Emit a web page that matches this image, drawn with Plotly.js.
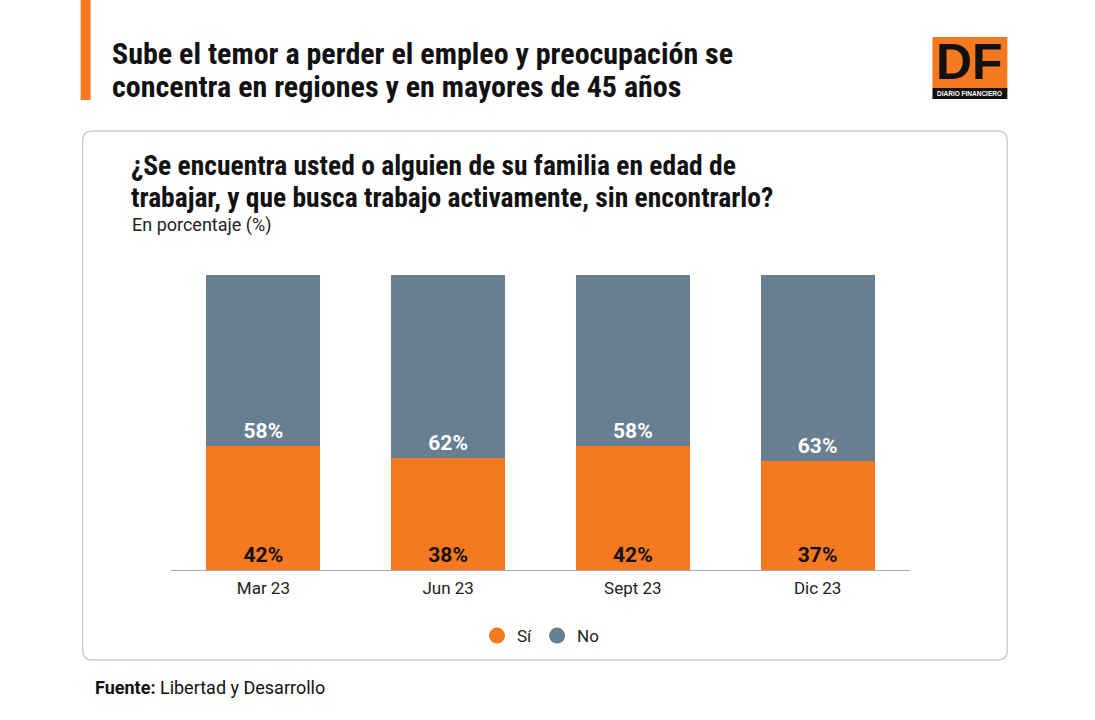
<!DOCTYPE html>
<html>
<head>
<meta charset="utf-8">
<script src="https://cdn.plot.ly/plotly-3.0.1.min.js"></script>
<style>
html,body{margin:0;padding:0;background:#fff;}
#chart{width:1095px;height:720px;}
</style>
</head>
<body>
<div id="chart"></div>
<script>
const categories = ['Mar 23', 'Jun 23', 'Sept 23', 'Dic 23'];
const siValues = [42, 38, 42, 37];
const noValues = [58, 62, 58, 63];
const seriesNames = ['Sí', 'No'];

const ORANGE = '#F47920';
const GRAY = '#687F91';
const FONT_B = '"Liberation Sans Narrow", "Roboto Condensed", Roboto, sans-serif';
const FONT = 'Roboto, "Noto Sans", sans-serif';

// plot area geometry (pixels)
const L = 170.5, R = 910.5, T = 275, B = 570;
const W = 1095, H = 720;
const px = x => (x - L) / (R - L);
const py = y => (B - y) / (B - T);

const traces = [
  {
    type: 'bar', name: seriesNames[0], x: categories, y: siValues,
    marker: {color: ORANGE, line: {width: 0}},
    text: siValues.map(v => v + '%'), textposition: 'inside', insidetextanchor: 'start',
    textangle: 0, constraintext: 'none',
    textfont: {family: FONT, size: 21, color: '#111', weight: 700},
    showlegend: false, hoverinfo: 'skip'
  },
  {
    type: 'bar', name: seriesNames[1], x: categories, y: noValues,
    marker: {color: GRAY, line: {width: 0}},
    text: noValues.map(v => v + '%'), textposition: 'inside', insidetextanchor: 'start',
    textangle: 0, constraintext: 'none',
    textfont: {family: FONT, size: 21, color: '#fff', weight: 700},
    showlegend: false, hoverinfo: 'skip'
  },
  {
    type: 'scatter', mode: 'markers', name: seriesNames[0], x: [null], y: [null],
    marker: {color: ORANGE, size: 17, symbol: 'circle'}, showlegend: true, hoverinfo: 'skip'
  },
  {
    type: 'scatter', mode: 'markers', name: seriesNames[1], x: [null], y: [null],
    marker: {color: GRAY, size: 17, symbol: 'circle'}, showlegend: true, hoverinfo: 'skip'
  }
];

// rounded rectangle path in paper coords
function roundRect(x0, y0, x1, y1, r) {
  const X = v => px(v), Y = v => py(v);
  return `M ${X(x0 + r)} ${Y(y0)} L ${X(x1 - r)} ${Y(y0)} Q ${X(x1)} ${Y(y0)} ${X(x1)} ${Y(y0 + r)} ` +
    `L ${X(x1)} ${Y(y1 - r)} Q ${X(x1)} ${Y(y1)} ${X(x1 - r)} ${Y(y1)} ` +
    `L ${X(x0 + r)} ${Y(y1)} Q ${X(x0)} ${Y(y1)} ${X(x0)} ${Y(y1 - r)} ` +
    `L ${X(x0)} ${Y(y0 + r)} Q ${X(x0)} ${Y(y0)} ${X(x0 + r)} ${Y(y0)} Z`;
}

const shapes = [
  {type: 'path', xref: 'paper', yref: 'paper', path: roundRect(82, 131, 1008, 660, 10),
   line: {color: '#CCCCCC', width: 1.3}, fillcolor: 'rgba(0,0,0,0)', layer: 'below'},
  {type: 'rect', xref: 'paper', yref: 'paper', x0: px(80), x1: px(90), y0: py(0), y1: py(100),
   fillcolor: ORANGE, line: {width: 0}},
  {type: 'rect', xref: 'paper', yref: 'paper', x0: px(933), x1: px(1008), y0: py(37), y1: py(89),
   fillcolor: ORANGE, line: {width: 0}},
  {type: 'rect', xref: 'paper', yref: 'paper', x0: px(933), x1: px(1008), y0: py(88), y1: py(99),
   fillcolor: '#111', line: {width: 0}}
];

function ann(text, x, y, size, opts = {}) {
  return Object.assign({
    text, xref: 'paper', yref: 'paper', x: px(x), y: py(y), showarrow: false,
    xanchor: 'left', yanchor: 'middle', align: 'left',
    font: {family: FONT_B, size, color: '#111'}
  }, opts);
}

const annotations = [
  ann('<b>Sube el temor a perder el empleo y preocupación se</b>', 109, 53, 30),
  ann('<b>concentra en regiones y en mayores de 45 años</b>', 109, 86, 30),
  ann('<b>¿Se encuentra usted o alguien de su familia en edad de</b>', 128, 165, 27.5),
  ann('<b>trabajar, y que busca trabajo activamente, sin encontrarlo?</b>', 128, 197, 27.5),
  ann('En porcentaje (%)', 129, 225, 18, {font: {family: FONT, size: 18, color: '#222'}}),
  ann('<b>Fuente:</b> Libertad y Desarrollo', 92, 687, 18, {font: {family: FONT, size: 18, color: '#111'}}),
  ann('<b>DF</b>', 970, 62, 50, {xanchor: 'center', font: {family: 'Liberation Sans, Arial, sans-serif', size: 50, color: '#111'}}),
  ann('<b>DIARIO FINANCIERO</b>', 970, 94, 6.5, {xanchor: 'center', font: {family: 'Liberation Sans, Arial, sans-serif', size: 6.5, color: '#fff'}})
];

const layout = {
  width: W, height: H,
  margin: {l: L, r: W - R, t: T, b: H - B, pad: 0},
  paper_bgcolor: '#fff', plot_bgcolor: 'rgba(0,0,0,0)',
  barmode: 'stack', bargap: 0.384,
  font: {family: FONT, color: '#222'},
  xaxis: {
    type: 'category', range: [-0.5, 3.5], showgrid: false, zeroline: false,
    showline: true, linecolor: '#AAAAAA', linewidth: 1, ticks: '',
    ticklabelstandoff: 3,
    tickfont: {family: FONT, size: 17, color: '#222'}, fixedrange: true
  },
  yaxis: {range: [0, 100], visible: false, fixedrange: true},
  showlegend: true,
  legend: {
    orientation: 'h', x: 0.5, xanchor: 'center', y: py(636), yanchor: 'middle',
    traceorder: 'normal',
    font: {family: FONT, size: 17, color: '#222'}, itemwidth: 30, tracegroupgap: 0,
    bgcolor: 'rgba(0,0,0,0)'
  },
  shapes, annotations
};

Plotly.newPlot('chart', traces, layout, {staticPlot: true, displayModeBar: false});
</script>
</body>
</html>
